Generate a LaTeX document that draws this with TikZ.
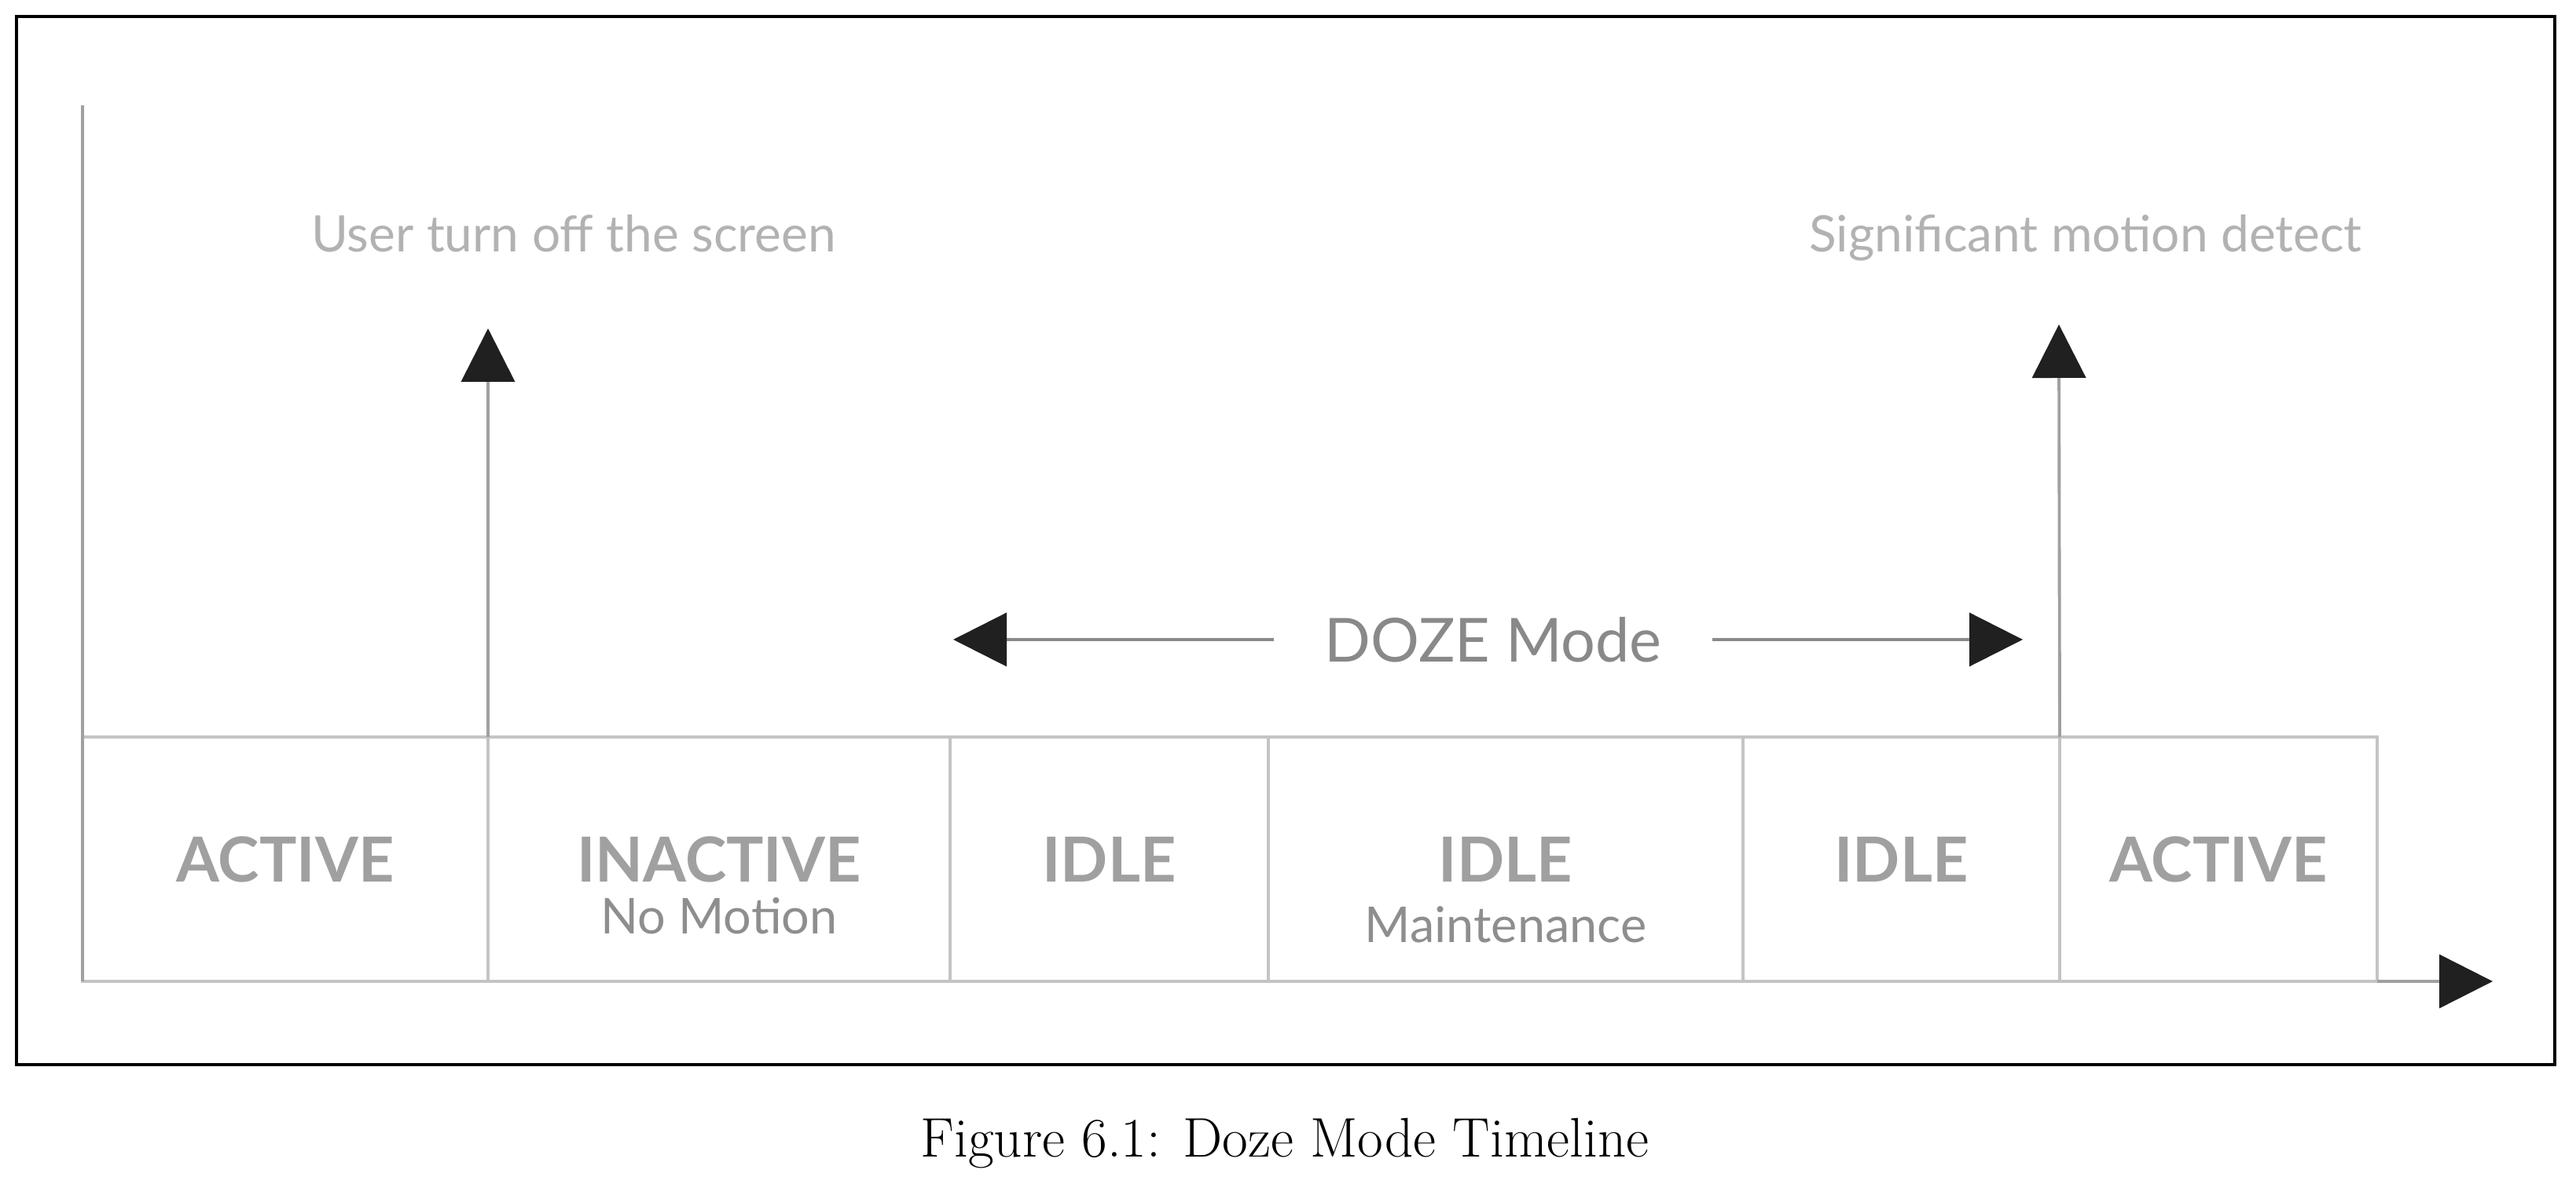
\documentclass[tikz,border=0pt]{standalone}
\usepackage{fontspec}
\newfontfamily\lato{Lato}
\usetikzlibrary{arrows.meta, positioning}
\definecolor{linegray}{HTML}{C4C4C4}
\definecolor{axisgray}{HTML}{A0A0A0}
\definecolor{labelgray}{HTML}{A0A0A0}
\definecolor{subgray}{HTML}{8E8E8E}
\definecolor{notegray}{HTML}{B2B2B2}
\definecolor{dozegray}{HTML}{898989}
\definecolor{headblack}{HTML}{202020}
\tikzstyle{seg} = [draw=linegray, line width=0.9pt, rectangle, minimum height=3.11cm, inner sep=0pt, outer sep=0pt, text=labelgray, font=\lato\bfseries\fontsize{22.5}{27}\selectfont]
\tikzstyle{sub} = [text=subgray, inner sep=0pt, font=\lato\fontsize{17.9}{22}\selectfont]
\tikzstyle{note} = [text=notegray, font=\lato\fontsize{18.2}{22}\selectfont]
\tikzstyle{axis} = [draw=axisgray, line width=1pt]
\tikzstyle{event} = [draw=axisgray, line width=1.1pt, ->]
\tikzstyle{span} = [draw=dozegray, line width=0.9pt, ->]

\begin{document}
\begin{tikzpicture}[>={Triangle[width=6.8mm, length=6.8mm, color=headblack]}]
  \useasboundingbox (0,0) rectangle (32.78,14.98);
  \draw[line width=1.2pt] (0.21,1.43) rectangle (32.51,14.77);

  % timeline segments
  \node[seg, minimum width=5.16cm, anchor=south west] (act1) at (1.05,2.49) {ACTIVE};
  \node[seg, minimum width=5.88cm, right of=act1, node distance=5.52cm] (inact) {INACTIVE};
  \node[seg, minimum width=4.05cm, right of=inact, node distance=4.965cm] (idle1) {IDLE};
  \node[seg, minimum width=6.04cm, right of=idle1, node distance=5.045cm] (maint) {IDLE};
  \node[seg, minimum width=4.03cm, right of=maint, node distance=5.035cm] (idle2) {IDLE};
  \node[seg, minimum width=4.04cm, right of=idle2, node distance=4.035cm] (act2) {ACTIVE};
  \node[sub, below of=inact, node distance=.72cm] (nomotion) {No Motion};
  \node[sub, below of=maint, node distance=.83cm] (mtn) {Maintenance};

  % axes
  \coordinate (ytop) at (1.05,13.64);
  \coordinate (xend) at (31.72,2.49);
  \draw[axis] (act1.south west) -- (ytop);
  \draw[axis, ->] (act2.south east) -- (xend);

  % events
  \node[note] (off) at (7.30,12.01) {User turn off the screen};
  \node[note] (sig) at (26.54,11.95) {Significant motion detect};
  \coordinate (offtip) at (6.21,10.80);
  \coordinate (sigtip) at (26.20,10.85);
  \draw[event] (act1.north east) -- (offtip);
  \draw[event] (idle2.north east) -- (sigtip);

  % doze span
  \node[text=dozegray, inner xsep=.64cm, font=\lato\fontsize{22}{27}\selectfont] (doze) at (19.0,6.84) {DOZE Mode};
  \coordinate (dozeL) at (12.13,6.84);
  \coordinate (dozeR) at (25.74,6.84);
  \draw[span] (doze.west) -- (dozeL);
  \draw[span] (doze.east) -- (dozeR);

  \node[anchor=base, font=\fontsize{20.2}{24}\selectfont] (caption) at (16.35,.25) {Figure 6.1: Doze Mode Timeline};
\end{tikzpicture}
\end{document}
